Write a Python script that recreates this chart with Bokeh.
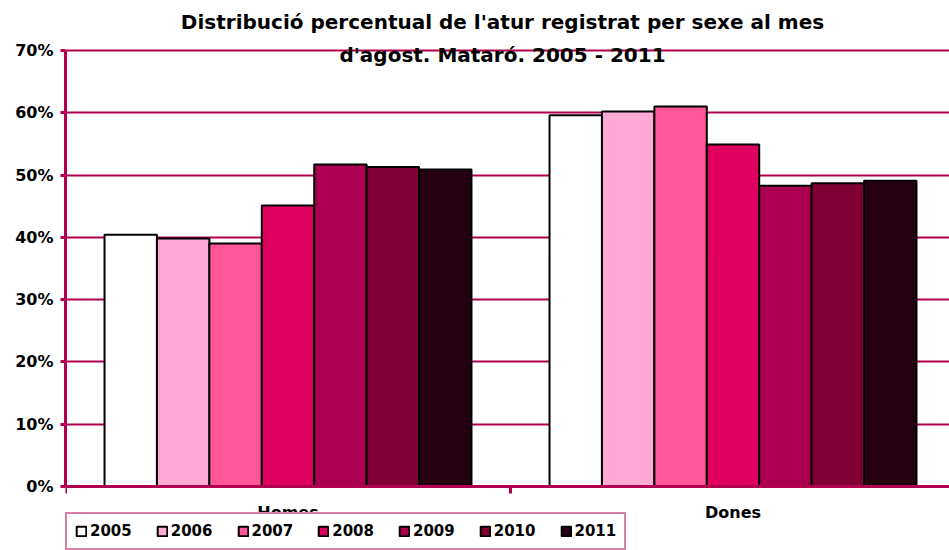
import numpy as np
from bokeh.plotting import figure
from bokeh.models import (Range1d, FixedTicker, Legend, LegendItem, ColumnDataSource, Label)
from bokeh.embed import file_html
from bokeh.resources import INLINE

categories = ["Homes", "Dones"]
years = ["2005", "2006", "2007", "2008", "2009", "2010", "2011"]
homes = [40.4, 39.8, 39.0, 45.1, 51.7, 51.3, 50.9]
dones = [59.6, 60.2, 61.0, 54.9, 48.3, 48.7, 49.1]
colors = ["#FFFFFF", "#FFAAD4", "#FF5599", "#E0005F", "#AA004F", "#800035", "#250010"]
y_ticks = [0, 10, 20, 30, 40, 50, 60, 70]
title_lines = ["Distribució percentual de l'atur registrat per sexe al mes",
               "d'agost. Mataró. 2005 - 2011"]

CRIMSON = "#B0004F"
FONT = "DejaVu Sans"
bar_w = 0.1178

p = figure(width=949, height=550, output_backend="svg", toolbar_location=None,
           x_range=Range1d(0, 1.9865), y_range=Range1d(-10.275, 78.027),
           min_border_left=65, min_border_right=0, min_border_top=0, min_border_bottom=0)
p.outline_line_color = None
p.background_fill_color = "white"
p.border_fill_color = "white"

items = []
for i, (yr, col) in enumerate(zip(years, colors)):
    xs = [ci + 0.5 + (i - 3) * bar_w for ci in range(len(categories))]
    tops = [homes[i], dones[i]]
    src = ColumnDataSource(dict(x=xs, top=tops))
    r = p.vbar(x="x", top="top", bottom=0, width=bar_w, source=src,
               fill_color=col, line_color="black", line_width=2)
    items.append(LegendItem(label=yr, renderers=[r]))

# Y axis
p.yaxis.bounds = (0, 70)
p.yaxis.ticker = FixedTicker(ticks=y_ticks)
p.yaxis.major_label_overrides = {t: f"{t}%" for t in y_ticks}
p.yaxis.axis_line_color = CRIMSON
p.yaxis.axis_line_width = 3
p.yaxis.major_tick_line_color = CRIMSON
p.yaxis.major_tick_line_width = 3
p.yaxis.major_tick_out = 5
p.yaxis.major_tick_in = 0
p.yaxis.minor_tick_line_color = None
p.yaxis.major_label_text_font = FONT
p.yaxis.major_label_text_font_style = "bold"
p.yaxis.major_label_text_font_size = "16px"
p.yaxis.major_label_text_color = "black"
p.yaxis.major_label_standoff = 7

# X axis (category axis placed at y = 0)
p.xaxis.fixed_location = 0
p.xaxis.ticker = FixedTicker(ticks=[0.5, 1.5], minor_ticks=[0, 1, 2])
p.xaxis.major_label_overrides = {0.5 + i: c for i, c in enumerate(categories)}
p.xaxis.axis_line_color = CRIMSON
p.xaxis.axis_line_width = 3
p.xaxis.major_tick_line_color = None
p.xaxis.major_tick_out = 0
p.xaxis.major_tick_in = 0
p.xaxis.minor_tick_line_color = CRIMSON
p.xaxis.minor_tick_line_width = 3
p.xaxis.minor_tick_out = 7
p.xaxis.minor_tick_in = 0
p.xaxis.major_label_text_font = FONT
p.xaxis.major_label_text_font_style = "bold"
p.xaxis.major_label_text_font_size = "16px"
p.xaxis.major_label_text_color = "black"
p.xaxis.major_label_standoff = 9

p.xgrid.grid_line_color = None
p.ygrid.ticker = FixedTicker(ticks=y_ticks)
p.ygrid.grid_line_color = CRIMSON
p.ygrid.grid_line_width = 2
p.ygrid.level = "underlay"

# Title (overlapping top of plot, as in reference)
for txt, yoff in zip(title_lines, [28, -5]):
    p.add_layout(Label(x=0.982, y=70, y_offset=yoff, text=txt, text_align="center",
                       text_baseline="middle", text_font=FONT, text_font_style="bold",
                       text_font_size="20px", text_color="black"))

legend = Legend(items=items, orientation="horizontal", location=(0, 0),
                label_text_font=FONT, label_text_font_style="bold",
                label_text_font_size="15px", label_text_color="black",
                glyph_width=12, glyph_height=12, label_standoff=3,
                spacing=24, padding=8, margin=0,
                border_line_color=CRIMSON, border_line_width=2,
                background_fill_color="white", background_fill_alpha=1.0)
p.add_layout(legend, "center")

open("out.html", "w").write(file_html(p, INLINE))
